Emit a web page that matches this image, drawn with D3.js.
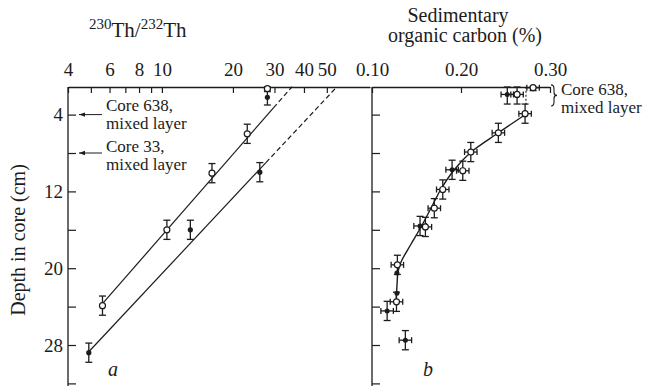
<!DOCTYPE html>
<html><head><meta charset="utf-8">
<script src="https://cdn.jsdelivr.net/npm/d3@7"></script>
<style>
html,body{margin:0;padding:0;background:#fff;}
svg{display:block;font-family:"Liberation Serif","DejaVu Serif",serif;}
</style></head>
<body>
<svg id="chart" width="656" height="386"></svg>
<script>
// ---------- data ----------
const thTicks = [4,5,6,7,8,9,10,20,30,40,50];
const thTickLabels = [4,6,8,10,20,30,40,50];
const depthTicks = [4,8,12,16,20,24,28,32];
const depthTickLabels = [4,12,20,28];
const carbonTicks = [0.10,0.20,0.30];

// Core 638 (open circles), panel a
const core638Depth = [1.3, 6.0, 10.1, 16.0, 23.9];
const core638Ratio = [28.0, 23.0, 16.3, 10.5, 5.6];
const core638Err   = [0.3, 1.0, 1.0, 1.0, 1.0];
// Core 33 (filled dots), panel a
const core33Depth = [2.2, 10.0, 16.0, 28.8];
const core33Ratio = [28.0, 26.0, 13.2, 4.9];
const core33Err   = [0.8, 1.0, 1.0, 1.0];
// fitted lines (solid part, dashed extrapolation)
const fit638Depth = [23.7, 3.3, 1.1];
const fit638Ratio = [5.6, 29.7, 35.6];
const fit33Depth  = [28.7, 9.0, 1.1];
const fit33Ratio  = [4.9, 27.6, 55.2];

// Panel b, sedimentary organic carbon (%)
const carbonOpenDepth  = [1.9, 3.9, 5.9, 7.9, 9.85, 11.8, 13.75, 15.7, 19.65, 23.5, 1.2];
const carbonOpenValue  = [0.263, 0.272, 0.242, 0.211, 0.202, 0.1795, 0.170, 0.160, 0.1285, 0.1275, 0.281];
const carbonOpenDErr   = [1.0, 1.0, 1.0, 1.0, 1.0, 1.0, 1.0, 1.0, 1.0, 1.0, 0.3];
const carbonFilledDepth = [1.9, 9.75, 15.6, 20.5, 22.6, 24.45, 27.5];
const carbonFilledValue = [0.252, 0.190, 0.154, 0.128, 0.128, 0.117, 0.1375];
const carbonFilledDErr  = [1.0, 1.0, 1.0, 0, 0, 1.0, 1.0];
const carbonFilledVErr  = [0.007, 0.007, 0.007, 0, 0, 0.007, 0.007];
const carbonVErr = 0.007;
const carbonFitDepth = [3.94, 5.92, 7.9, 9.77, 11.75, 13.73, 15.71, 17.48, 19.35, 20.4, 21.75, 23.52];
const carbonFitValue = [0.2732, 0.2417, 0.2114, 0.1922, 0.1776, 0.1664, 0.1551, 0.1439, 0.1326, 0.1292, 0.1281, 0.127];
const mixedLayerDepth = [1.1, 3.0];
const mixedLayerValue = [0.273, 0.273];

// ---------- layout ----------
const ink = "#1c1c1c";
const svg = d3.select("#chart");
const yTop = 87, yBottom = 386;
const xA = d3.scaleLog().domain([4, 76.2]).range([68, 370]);
const xB = d3.scaleLinear().domain([0.10, 0.30]).range([372, 550]);
const y = d3.scaleLinear().domain([0, 32]).range([76.2, 383.4]);

function styleAxis(g){
  g.selectAll("path.domain").attr("stroke", ink).attr("stroke-width", 1.3);
  g.selectAll(".tick line").attr("stroke", ink).attr("stroke-width", 1.2);
  g.selectAll(".tick text").attr("fill", ink).attr("font-size", 19)
    .attr("font-family", '"Liberation Serif","DejaVu Serif",serif');
}

// top axis panel a
svg.append("g").attr("transform", `translate(0,${yTop})`)
  .call(d3.axisTop(xA).tickValues(thTicks).tickSizeInner(-6).tickSizeOuter(0).tickPadding(11)
    .tickFormat(d => thTickLabels.includes(d) ? d : ""))
  .call(styleAxis);
// top axis panel b
svg.append("g").attr("transform", `translate(0,${yTop})`)
  .call(d3.axisTop(xB).tickValues(carbonTicks).tickSizeInner(-6).tickSizeOuter(0).tickPadding(11)
    .tickFormat(d3.format(".2f")))
  .call(styleAxis);

// left axis panel a
const yAx = d3.scaleLinear().domain(y.domain()).range(y.range());
svg.append("g").attr("transform", `translate(68,0)`)
  .call(d3.axisLeft(yAx).tickValues(depthTicks).tickSizeInner(-8).tickSizeOuter(0).tickPadding(5)
    .tickFormat(d => depthTickLabels.includes(d) ? d : ""))
  .call(styleAxis)
  .call(g => g.select("path.domain").attr("d", `M0,${yTop}V${yBottom}`));
// left axis panel b
svg.append("g").attr("transform", `translate(372,0)`)
  .call(d3.axisLeft(yAx).tickValues(depthTicks).tickSizeInner(-8).tickSizeOuter(0).tickFormat(""))
  .call(styleAxis)
  .call(g => g.select("path.domain").attr("d", `M0,${yTop}V${yBottom}`));

// axis titles
const tTitle = svg.append("text").attr("x", 89).attr("y", 37).attr("font-size", 21).attr("fill", ink);
tTitle.append("tspan").attr("font-size", 15).attr("dy", -8).text("230");
tTitle.append("tspan").attr("dy", 8).text("Th/");
tTitle.append("tspan").attr("font-size", 15).attr("dy", -8).text("232");
tTitle.append("tspan").attr("dy", 8).text("Th");

svg.append("text").attr("x", 458).attr("y", 22).attr("text-anchor", "middle")
  .attr("font-size", 20).attr("fill", ink).text("Sedimentary");
svg.append("text").attr("x", 465).attr("y", 42).attr("text-anchor", "middle")
  .attr("font-size", 20).attr("fill", ink).text("organic carbon (%)");

svg.append("text").attr("transform", "translate(25,240) rotate(-90)").attr("text-anchor", "middle")
  .attr("font-size", 20).attr("fill", ink).text("Depth in core (cm)");

// panel letters
svg.append("text").attr("x", 113).attr("y", 376).attr("font-size", 20).attr("font-style", "italic")
  .attr("fill", ink).attr("text-anchor", "middle").text("a");
svg.append("text").attr("x", 428).attr("y", 376).attr("font-size", 20).attr("font-style", "italic")
  .attr("fill", ink).attr("text-anchor", "middle").text("b");

// annotations panel a
function leftArrow(depth, x0, x1){
  const yy = y(depth);
  svg.append("line").attr("x1", x0).attr("x2", x1).attr("y1", yy).attr("y2", yy)
    .attr("stroke", ink).attr("stroke-width", 1);
  svg.append("path").attr("d", `M${x1},${yy}l6,-2.2v4.4z`).attr("fill", ink);
}
leftArrow(4, 102, 79);
leftArrow(8, 102, 79);
function label2(x, yb, l1, l2){
  svg.append("text").attr("x", x).attr("y", yb).attr("font-size", 17).attr("fill", ink).text(l1);
  svg.append("text").attr("x", x).attr("y", yb + 18).attr("font-size", 17).attr("fill", ink).text(l2);
}
label2(106, 111, "Core 638,", "mixed layer");
label2(106, 152, "Core 33,", "mixed layer");
label2(561, 95, "Core 638,", "mixed layer");

// ---------- panel a marks ----------
const gA = svg.append("g");
function fitLine(g, xs, depths, vals){
  const pts = depths.map((d,i)=>[xs(vals[i]), y(d)]);
  g.append("path").attr("d", d3.line()(pts.slice(0,2))).attr("stroke", ink).attr("stroke-width", 1.2).attr("fill","none");
  g.append("path").attr("d", d3.line()(pts.slice(1,3))).attr("stroke", ink).attr("stroke-width", 1.2)
    .attr("stroke-dasharray", "5,3").attr("fill","none");
}
fitLine(gA, xA, fit638Depth, fit638Ratio);
fitLine(gA, xA, fit33Depth, fit33Ratio);

function vBar(g, x, d, e){
  if (!e) return;
  const y0 = Math.max(y(d - e), yTop), y1 = y(d + e);
  g.append("line").attr("x1", x).attr("x2", x).attr("y1", y0).attr("y2", y1).attr("stroke", ink).attr("stroke-width", 1.3);
  [y0, y1].forEach(v => g.append("line").attr("x1", x-3.5).attr("x2", x+3.5).attr("y1", v).attr("y2", v)
    .attr("stroke", ink).attr("stroke-width", 1.3));
}
function hBar(g, xs, v, d, e){
  if (!e) return;
  const x0 = xs(v - e), x1 = xs(v + e), yy = y(d);
  g.append("line").attr("x1", x0).attr("x2", x1).attr("y1", yy).attr("y2", yy).attr("stroke", ink).attr("stroke-width", 1.3);
  [x0, x1].forEach(u => g.append("line").attr("x1", u).attr("x2", u).attr("y1", yy-3).attr("y2", yy+3)
    .attr("stroke", ink).attr("stroke-width", 1.3));
}

core33Depth.forEach((d,i)=>{
  vBar(gA, xA(core33Ratio[i]), d, core33Err[i]);
  gA.append("circle").attr("cx", xA(core33Ratio[i])).attr("cy", y(d)).attr("r", 2.6).attr("fill", ink);
});
core638Depth.forEach((d,i)=>{
  vBar(gA, xA(core638Ratio[i]), d, core638Err[i]);
  gA.append("circle").attr("cx", xA(core638Ratio[i])).attr("cy", y(d)).attr("r", 3).attr("fill", "#fff")
    .attr("stroke", ink).attr("stroke-width", 1.2);
});

// ---------- panel b marks ----------
const gB = svg.append("g");
gB.append("path")
  .attr("d", d3.line().curve(d3.curveCatmullRom)(carbonFitDepth.map((d,i)=>[xB(carbonFitValue[i]), y(d)])))
  .attr("stroke", ink).attr("stroke-width", 1.4).attr("fill", "none");
gB.append("path")
  .attr("d", d3.line()(mixedLayerDepth.map((d,i)=>[xB(mixedLayerValue[i]), y(d)])))
  .attr("stroke", ink).attr("stroke-width", 1.1).attr("stroke-dasharray", "2,2").attr("fill", "none");

carbonFilledDepth.forEach((d,i)=>{
  vBar(gB, xB(carbonFilledValue[i]), d, carbonFilledDErr[i]);
  hBar(gB, xB, carbonFilledValue[i], d, carbonFilledVErr[i]);
  gB.append("circle").attr("cx", xB(carbonFilledValue[i])).attr("cy", y(d)).attr("r", 2.5).attr("fill", ink);
});
carbonOpenDepth.forEach((d,i)=>{
  vBar(gB, xB(carbonOpenValue[i]), d, carbonOpenDErr[i]);
  hBar(gB, xB, carbonOpenValue[i], d, carbonVErr);
  gB.append("circle").attr("cx", xB(carbonOpenValue[i])).attr("cy", y(d)).attr("r", 3).attr("fill", "#fff")
    .attr("stroke", ink).attr("stroke-width", 1.2);
});

// brace for mixed layer
const by0 = y(0.9), by1 = y(3.1), bx = xB(0.3) + 4, bm = (by0 + by1) / 2;
svg.append("path")
  .attr("d", `M${bx-3},${by0} Q${bx},${by0} ${bx},${by0+4} V${bm-3} Q${bx},${bm} ${bx+3},${bm} Q${bx},${bm} ${bx},${bm+3} V${by1-4} Q${bx},${by1} ${bx-3},${by1}`)
  .attr("stroke", ink).attr("stroke-width", 1.1).attr("fill", "none");
</script>
</body></html>
